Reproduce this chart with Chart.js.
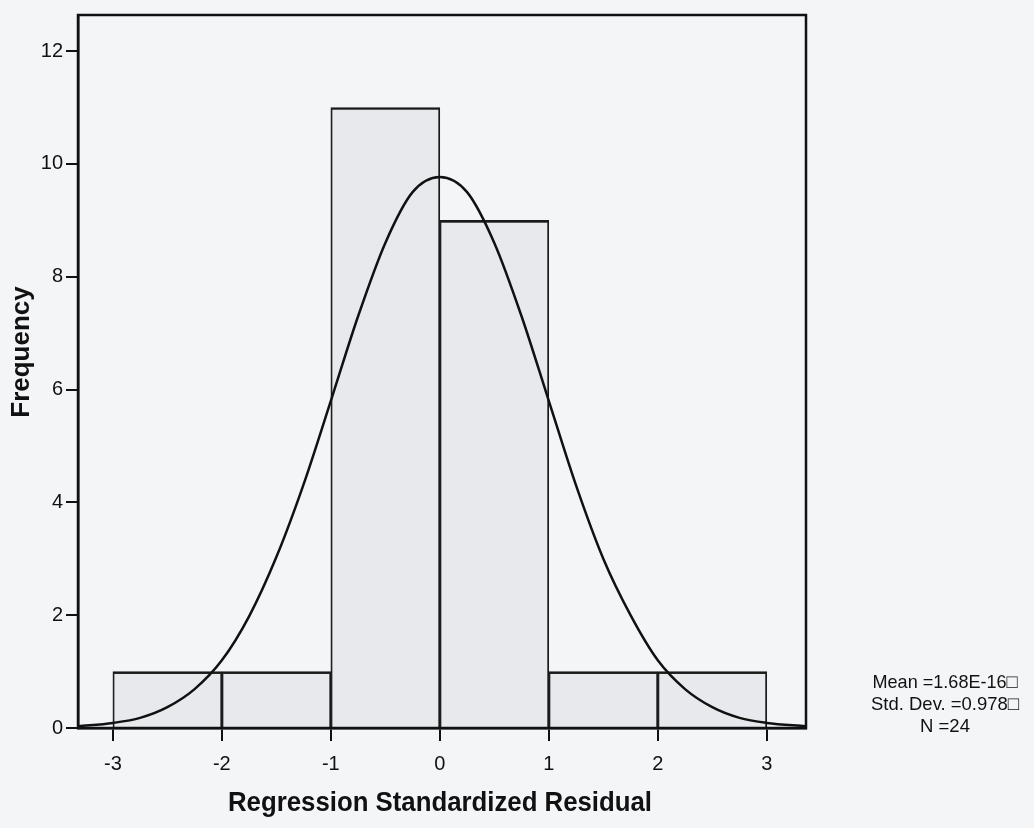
<!DOCTYPE html>
<html>
<head>
<meta charset="utf-8">
<script src="https://cdn.jsdelivr.net/npm/chart.js@4"></script>
<style>
  html, body { margin: 0; padding: 0; background: #f4f5f7; }
  #wrap { width: 1034px; height: 828px; position: relative; }
</style>
</head>
<body>
<div id="wrap"><canvas id="histChart"></canvas></div>
<script>
// histogram bins (centres) and counts
const binCenters = [-2.5, -1.5, -0.5, 0.5, 1.5, 2.5];
const binCounts = [1, 1, 11, 9, 1, 1];

// normal curve
const curveX = [-3.32, -3, -2.75, -2.5, -2.25, -2, -1.75, -1.5, -1.25, -1, -0.75, -0.5, -0.25, 0,
                0.25, 0.5, 0.75, 1, 1.25, 1.5, 1.75, 2, 2.25, 2.5, 2.75, 3, 3.36];
const curveY = [0.03, 0.09, 0.18, 0.37, 0.69, 1.2, 1.98, 3.03, 4.32, 5.8, 7.3, 8.6, 9.5, 9.77,
                9.5, 8.6, 7.3, 5.8, 4.3, 3.0, 2.0, 1.2, 0.69, 0.37, 0.18, 0.09, 0.03];

const xTicks = [-3, -2, -1, 0, 1, 2, 3];
const yTicks = [0, 2, 4, 6, 8, 10, 12];
const statsLines = ['Mean =1.68E-16\u25A1', 'Std. Dev. =0.978\u25A1', 'N =24'];

const narrow = "'Liberation Sans Narrow', 'Arial Narrow', 'Liberation Sans', Arial, sans-serif";
const wide = "'Liberation Sans', Arial, sans-serif";

// draws text squeezed to a given width
function squeezed(c, text, x, y, width) {
    const w = c.measureText(text).width;
    c.save();
    c.translate(x, y);
    c.scale(Math.min(1, width / w), 1);
    c.fillText(text, 0, 0);
    c.restore();
}

const decorations = {
    id: 'decorations',
    afterDraw(chart) {
        const c = chart.ctx;
        const a = chart.chartArea;
        c.save();
        c.strokeStyle = '#111';
        c.lineWidth = 2.5;
        c.strokeRect(a.left, a.top, a.right - a.left, a.bottom - a.top);

        c.fillStyle = '#111';
        c.textAlign = 'center';
        c.textBaseline = 'middle';
        // x title
        c.font = "bold 28px " + narrow;
        squeezed(c, 'Regression Standardized Residual', (a.left + a.right) / 2 - 2, 803, 424);
        // y title
        c.save();
        c.translate(22, 352);
        c.rotate(-Math.PI / 2);
        c.font = "bold 26px " + wide;
        c.fillText('Frequency', 0, 0);
        c.restore();
        // stats
        c.font = "19px " + narrow;
        squeezed(c, statsLines[0], a.right + 139, 683, 145);
        squeezed(c, statsLines[1], a.right + 139, 705, 148);
        squeezed(c, statsLines[2], a.right + 139, 727, 50);
        c.restore();
    }
};

const ctx = document.getElementById('histChart');
new Chart(ctx, {
    data: {
        datasets: [{
            type: 'line',
            data: curveX.map((x, i) => ({ x: x, y: curveY[i] })),
            borderColor: '#111',
            borderWidth: 2.5,
            pointRadius: 0,
            cubicInterpolationMode: 'monotone',
            fill: false,
            order: 0
        }, {
            type: 'bar',
            data: binCenters.map((x, i) => ({ x: x, y: binCounts[i] })),
            backgroundColor: 'rgba(150, 155, 165, 0.13)',
            borderColor: '#1a1a1a',
            borderWidth: { left: 1.2, right: 1.2, top: 2, bottom: 0 },
            barPercentage: 1,
            categoryPercentage: 1,
            order: 1
        }]
    },
    options: {
        responsive: true,
        maintainAspectRatio: false,
        animation: false,
        layout: { padding: { top: 14, right: 228, left: 0, bottom: 0 } },
        plugins: { legend: { display: false }, tooltip: { enabled: false } },
        scales: {
            x: {
                type: 'linear',
                offset: false,
                min: -3.32,
                max: 3.36,
                afterFit: s => { s.height = 100; },
                afterBuildTicks: s => { s.ticks = xTicks.map(v => ({ value: v })); },
                grid: { offset: false, drawOnChartArea: false, drawTicks: true, tickLength: 13, color: '#111', lineWidth: 2 },
                border: { color: '#111', width: 2.5 },
                ticks: { color: '#111', padding: 11, font: { family: narrow, size: 20 } }
            },
            y: {
                min: 0,
                max: 12.64,
                afterFit: s => { s.width = 78; },
                afterBuildTicks: s => { s.ticks = yTicks.map(v => ({ value: v })); },
                grid: { drawOnChartArea: false, drawTicks: true, tickLength: 12, color: '#111', lineWidth: 2 },
                border: { color: '#111', width: 2.5 },
                ticks: { color: '#111', padding: 3, font: { family: narrow, size: 20 } }
            }
        }
    },
    plugins: [decorations]
});
</script>
</body>
</html>
